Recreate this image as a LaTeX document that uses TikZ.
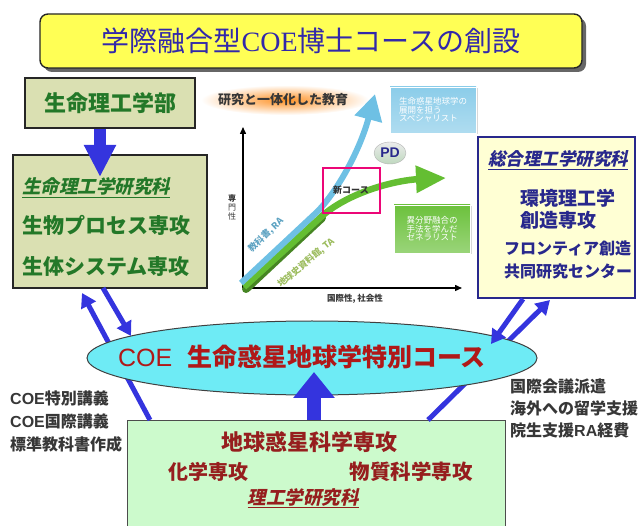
\documentclass[tikz,border=0pt]{standalone}
\usepackage{fontspec}
\newfontfamily\jp{Noto Sans CJK JP}
\newfontfamily\jpit{Noto Sans CJK JP}[FakeSlant=0.22]
\newfontfamily\lserif{Liberation Serif}
\newfontfamily\lsans{Liberation Sans}
\usetikzlibrary{arrows.meta,shapes.geometric,shadows}
\definecolor{titleyellow}{RGB}{255,255,85}
\definecolor{titletext}{RGB}{50,40,170}
\definecolor{olivefill}{RGB}{218,224,178}
\definecolor{greentext}{RGB}{35,120,40}
\definecolor{creamfill}{RGB}{255,255,212}
\definecolor{navy}{RGB}{40,40,140}
\definecolor{coecyan}{RGB}{110,235,245}
\definecolor{coered}{RGB}{176,24,24}
\definecolor{scigreen}{RGB}{204,250,204}
\definecolor{scired}{RGB}{150,30,30}
\definecolor{arrowblue}{RGB}{52,52,222}
\definecolor{chartblue}{RGB}{110,192,228}
\definecolor{chartgreen}{RGB}{100,190,50}
\definecolor{darkgraytext}{RGB}{55,55,55}
\begin{document}
\begin{tikzpicture}[x=1pt,y=-1pt,font=\jp,
  fs/.style={font=\jp\fontsize{#1}{#1}\selectfont},
  box/.style={draw, rectangle, line width=1.4pt, inner sep=0pt},
  fatarrow/.style={draw=arrowblue, line width=#1},
  thinarrow/.style={draw=arrowblue, line width=5pt, -{Triangle[width=16pt,length=14pt]}},
  txt/.style={inner sep=0pt}
]
\useasboundingbox (0,0) rectangle (640,526);

% title
\node[box, rounded corners=8pt, fill=titleyellow, draw=black!85, minimum width=542pt, minimum height=54pt,
  drop shadow={shadow xshift=4pt, shadow yshift=-4pt, fill=black!60, opacity=1}] (title) at (311,41) {};
\node[txt, text=titletext, fs=28] (titletxt) at (title.center) {学際融合型{\lserif COE}博士コースの創設};

% left department
\node[box, fill=olivefill, draw=black!85, minimum width=170pt, minimum height=50pt] (dept) at (110,103) {};
\node[txt, text=greentext, fs=22] (depttxt) at (dept.center) {\bfseries 生命理工学部};

\node[box, fill=olivefill, draw=black!85, minimum width=194pt, minimum height=133pt] (gradL) at (110,221.5) {};
\node[txt, anchor=west, text=greentext, fs=18.5] (gradLh) at (22,188) {\jpit\bfseries\underline{生命理工学研究科}};
\node[txt, anchor=west, text=greentext, fs=21] (gradL1) at (22,225) {\bfseries 生物プロセス専攻};
\node[txt, anchor=west, text=greentext, fs=21] (gradL2) at (22,267) {\bfseries 生体システム専攻};

\draw[fatarrow=12pt, -{Triangle[width=30pt,length=32pt]}] (dept.south -| 100,0) -- (100,177) coordinate (deptarrowtip);

% right box
\node[box, fill=creamfill, draw=navy, minimum width=157pt, minimum height=161pt] (gradR) at (556.5,217.5) {};
\node[txt, anchor=west, text=navy, fs=17.5] (gradRh) at (488,160) {\jpit\bfseries\underline{総合理工学研究科}};
\node[txt, anchor=west, text=navy, fs=19] (gradR1) at (520,198) {\bfseries 環境理工学};
\node[txt, anchor=west, text=navy, fs=19] (gradR2) at (520,220) {\bfseries 創造専攻};
\node[txt, anchor=west, text=navy, fs=16] (gradR3) at (504,248) {\bfseries フロンティア創造};
\node[txt, anchor=west, text=navy, fs=16] (gradR4) at (504,271) {\bfseries 共同研究センター};

% chart
\shade[inner color=orange!85, outer color=white] (285,100) ellipse (84pt and 15pt);
\node[txt, text=darkgraytext, fs=13] (charttitle) at (283,100) {\bfseries 研究と一体化した教育};
\coordinate (origin) at (243,288);
\coordinate (ytip) at (243,127);
\coordinate (xtip) at (462,288);
\draw[line width=1.4pt, -{Triangle[width=6pt,length=7pt]}] (origin) -- (ytip);
\draw[line width=1.4pt, -{Triangle[width=6pt,length=7pt]}] (origin) -- (xtip);
\node[txt, text=darkgraytext, fs=8, align=center] (ylab) at (232,207) {\bfseries 専\\[1pt]門\\[1pt]性};
\node[txt, text=darkgraytext, fs=8.5] (xlab) at (355,299) {\bfseries 国際性, 社会性};

% green arrow
\draw[chartgreen!70!black, line width=8pt, line cap=round] (246,289) -- (322,218);
\draw[chartgreen, line width=6.5pt, -{Triangle[width=26pt,length=30pt]}]
  (244,287) -- (322,216) .. controls (352,190) and (400,180) .. (446,178);
% blue arrow
\draw[chartblue, line width=6pt, -{Triangle[width=27pt,length=26pt]}]
  (241,283) -- (318,211) .. controls (338,190) and (360,150) .. (375,94);
\node[txt, text=chartblue!85!black, fs=9, rotate=44] (bluelab) at (266,235) {\bfseries 教科書, RA};
\node[txt, text=chartgreen!50!olive!70, fs=9, rotate=40] (greenlab) at (306,263) {\bfseries 地球史資料館, TA};

% new course box
\node[draw=magenta!80!red, line width=1.3pt, minimum width=57pt, minimum height=45pt, inner sep=0pt] (newc) at (351.5,190.5) {};
\node[txt, text=black!80, fs=9] (newctxt) at (351,190) {\bfseries 新コース};

% PD
\node[ellipse, draw=gray!60, top color=gray!15, bottom color=green!25!gray!40, minimum width=32pt, minimum height=22pt, inner sep=0pt] (pd) at (390,153) {};
\node[txt, text=navy, font=\lsans\bfseries\fontsize{14}{14}\selectfont] (pdtxt) at (pd.center) {PD};

% specialist boxes
\node[draw=white, top color=chartblue!80, bottom color=chartblue!55, minimum width=86pt, minimum height=46pt, inner sep=0pt, drop shadow={shadow xshift=1.5pt, shadow yshift=-1.5pt, fill=black!30}] (spec) at (433,110) {};
\node[txt, text=white, fs=8.5, align=left] (spectxt) at (spec.center) {生命惑星地球学の\\展開を担う\\スペシャリスト};
\node[draw=white, top color=chartgreen!95, bottom color=chartgreen!65, minimum width=76pt, minimum height=48pt, inner sep=0pt, drop shadow={shadow xshift=1.5pt, shadow yshift=-1.5pt, fill=black!30}] (gen) at (432,229) {};
\node[txt, text=white, fs=8.5, align=left] (gentxt) at (gen.center) {異分野融合の\\手法を学んだ\\ゼネラリスト};

% bottom box
\node[draw=black!70, line width=1.3pt, fill=scigreen, minimum width=378pt, minimum height=120pt, inner sep=0pt, anchor=north west] (sci) at (127,420) {};
\node[txt, text=scired, fs=22] (sci1) at (309,442) {\bfseries 地球惑星科学専攻};
\node[txt, text=scired, fs=20] (sci2) at (208,472) {\bfseries 化学専攻};
\node[txt, text=scired, fs=20.5] (sci3) at (411,472) {\bfseries 物質科学専攻};
\node[txt, text=scired, fs=18.5] (sci4) at (303,498) {\jpit\bfseries\underline{理工学研究科}};

% long lines (behind ellipse)
\coordinate (lls) at (150,420);
\coordinate (llt) at (82,293);
\coordinate (rls) at (428,420);
\coordinate (rlt) at (550,300);
\draw[thinarrow] (lls) -- (llt);
\draw[thinarrow] (rls) -- (rlt);

% ellipse
\node[ellipse, draw=black!75, line width=1pt, fill=coecyan, minimum width=450pt, minimum height=74pt, inner sep=0pt] (coe) at (312,358) {};
\node[txt, text=coered, font=\lsans\fontsize{25}{25}\selectfont] (coetxt) at (302,357) {COE\hspace{0.6em}{\jp\bfseries 生命惑星地球学特別コース}};

% short arrows
\coordinate (lss) at (103,288);
\coordinate (lst) at (131,336);
\coordinate (rss) at (523,299);
\coordinate (rst) at (491,344);
\draw[thinarrow] (lss) -- (lst);
\draw[thinarrow] (rss) -- (rst);

% center fat arrow
\draw[fatarrow=14pt, -{Triangle[width=40pt,length=26pt]}] (sci.north -| 314,0) -- (314,372) coordinate (ctip);

% side texts
\node[txt, anchor=west, text=darkgraytext, fs=16] (ltext1) at (10,398) {\bfseries{\lsans COE}特別講義};
\node[txt, anchor=west, text=darkgraytext, fs=16] (ltext2) at (10,421) {\bfseries{\lsans COE}国際講義};
\node[txt, anchor=west, text=darkgraytext, fs=16] (ltext3) at (10,444) {\bfseries 標準教科書作成};
\node[txt, anchor=west, text=darkgraytext, fs=16] (rtext1) at (510,386) {\bfseries 国際会議派遣};
\node[txt, anchor=west, text=darkgraytext, fs=16] (rtext2) at (510,408) {\bfseries 海外への留学支援};
\node[txt, anchor=west, text=darkgraytext, fs=16] (rtext3) at (510,430) {\bfseries 院生支援{\lsans RA}経費};
\end{tikzpicture}
\end{document}
